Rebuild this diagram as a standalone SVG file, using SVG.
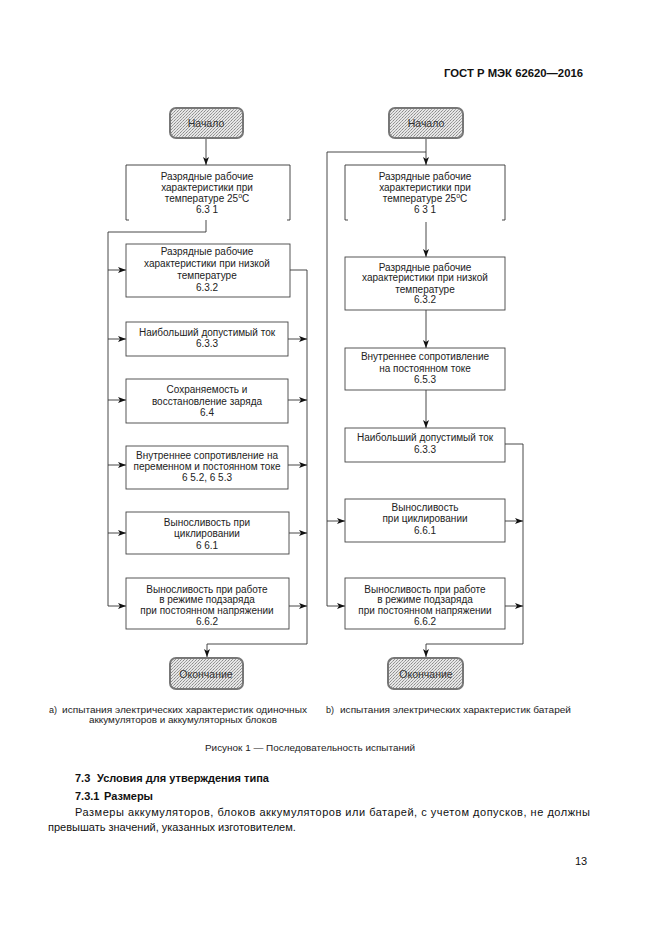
<svg xmlns="http://www.w3.org/2000/svg" width="661" height="936" viewBox="0 0 661 936">
<defs>
<pattern id="stip" width="3" height="3" patternUnits="userSpaceOnUse">
<rect width="3" height="3" fill="#e6e6e6"/>
<rect x="0" y="0" width="1" height="1" fill="#8a8a8a"/>
<rect x="2" y="1" width="1" height="1" fill="#a8a8a8"/>
<rect x="1" y="2" width="1" height="1" fill="#9a9a9a"/>
</pattern>
<marker id="ah" viewBox="0 0 8 6" refX="8" refY="3" markerWidth="8" markerHeight="6" markerUnits="userSpaceOnUse" orient="auto">
<path d="M0,0 L8,3 L0,6 L2,3 Z" fill="#111"/>
</marker>
</defs>
<style>
.box{fill:#fff;stroke:#444;stroke-width:0.9}
.term{fill:url(#stip);stroke:#777;stroke-width:2}
.t{font-family:"Liberation Sans",Arial,sans-serif;font-size:10px;fill:#222;text-anchor:middle}
.tt{font-family:"Liberation Sans",Arial,sans-serif;font-size:10.5px;fill:#333;text-anchor:middle}
.c{fill:none;stroke:#333;stroke-width:0.9}
.a{marker-end:url(#ah)}
.cap{font-family:"Liberation Sans",Arial,sans-serif;font-size:9px;fill:#222}
.b{font-family:"Liberation Sans",Arial,sans-serif;font-size:11px;fill:#111}
.bb{font-family:"Liberation Sans",Arial,sans-serif;font-size:11px;font-weight:bold;fill:#111}
</style>
<rect width="661" height="936" fill="#fff"/>
<text id="header" class="bb" x="444" y="77" textLength="139" lengthAdjust="spacingAndGlyphs">ГОСТ Р МЭК 62620—2016</text>

<g id="connectors">
<!-- left -->
<path class="c a" d="M206,138 V165"/>
<path class="c a" d="M206,220 V232 H108 V606 H126"/>
<path class="c a" d="M108,270 H126"/>
<path class="c a" d="M108,339 H126"/>
<path class="c a" d="M108,400 H126"/>
<path class="c a" d="M108,465 H126"/>
<path class="c a" d="M108,533 H126"/>
<path class="c a" d="M290,270 H307 V644 H207 V657"/>
<path class="c a" d="M288,339 H307"/>
<path class="c a" d="M288,400 H307"/>
<path class="c a" d="M288,465 H307"/>
<path class="c a" d="M289,533 H307"/>
<path class="c a" d="M289,606 H307"/>
<!-- right -->
<path class="c a" d="M426,138 V165"/>
<path class="c a" d="M426,152 H327 V606 H345"/>
<path class="c a" d="M327,521 H345"/>
<path class="c a" d="M426,222 V257"/>
<path class="c a" d="M426,310 V348"/>
<path class="c a" d="M426,390 V428"/>
<path class="c a" d="M505,444 H523 V644 H426 V657"/>
<path class="c a" d="M505,521 H523"/>
<path class="c a" d="M505,606 H523"/>
</g>

<!-- left column nodes -->
<g id="L-start">
<rect class="term" x="170" y="108" width="73" height="30" rx="6"/>
<text class="tt" x="206" y="127">Начало</text>
</g>
<g id="L-1">
<rect x="126" y="165" width="164" height="55" fill="#fff"/>
<path class="c" d="M126,220 V165 H290 V220 M126,220 h3 M290,220 h-3"/>
<text class="t" x="207" y="180">Разрядные рабочие</text>
<text class="t" x="207" y="191">характеристики при</text>
<text class="t" x="207" y="202">температуре 25<tspan font-size="7" dy="-4">o</tspan><tspan dy="4">C</tspan></text>
<text class="t" x="207" y="213">6.3 1</text>
</g>
<g id="L-2">
<rect class="box" x="126" y="244" width="164" height="53"/>
<text class="t" x="207" y="255">Разрядные рабочие</text>
<text class="t" x="207" y="267">характеристики при низкой</text>
<text class="t" x="207" y="279">температуре</text>
<text class="t" x="207" y="291">6.3.2</text>
</g>
<g id="L-3">
<rect class="box" x="126" y="322" width="162" height="34"/>
<text class="t" x="207" y="336">Наибольший допустимый ток</text>
<text class="t" x="207" y="347">6.3.3</text>
</g>
<g id="L-4">
<rect class="box" x="126" y="379" width="162" height="44"/>
<text class="t" x="207" y="393">Сохраняемость и</text>
<text class="t" x="207" y="405">восстановление заряда</text>
<text class="t" x="207" y="416">6.4</text>
</g>
<g id="L-5">
<rect class="box" x="126" y="446" width="162" height="43"/>
<text class="t" x="207" y="459">Внутреннее сопротивление на</text>
<text class="t" x="207" y="470">переменном и постоянном токе</text>
<text class="t" x="207" y="481">6 5.2, 6 5.3</text>
</g>
<g id="L-6">
<rect class="box" x="126" y="512" width="163" height="42"/>
<text class="t" x="207" y="526">Выносливость при</text>
<text class="t" x="207" y="537">циклировании</text>
<text class="t" x="207" y="549">6 6.1</text>
</g>
<g id="L-7">
<rect class="box" x="126" y="578" width="163" height="51"/>
<text class="t" x="207" y="593">Выносливость при работе</text>
<text class="t" x="207" y="603">в режиме подзаряда</text>
<text class="t" x="207" y="614">при постоянном напряжении</text>
<text class="t" x="207" y="625">6.6.2</text>
</g>
<g id="L-end">
<rect class="term" x="170" y="658" width="73" height="31" rx="6"/>
<text class="tt" x="206" y="678">Окончание</text>
</g>

<!-- right column nodes -->
<g id="R-start">
<rect class="term" x="389" y="108" width="74" height="30" rx="6"/>
<text class="tt" x="426" y="127">Начало</text>
</g>
<g id="R-1">
<rect x="345" y="165" width="160" height="55" fill="#fff"/>
<path class="c" d="M345,220 V165 H505 V220 M345,220 h3 M505,220 h-3"/>
<text class="t" x="425" y="180">Разрядные рабочие</text>
<text class="t" x="425" y="191">характеристики при</text>
<text class="t" x="425" y="202">температуре 25<tspan font-size="7" dy="-4">o</tspan><tspan dy="4">C</tspan></text>
<text class="t" x="425" y="213">6 3 1</text>
</g>
<g id="R-2">
<rect class="box" x="345" y="257" width="160" height="53"/>
<text class="t" x="425" y="271">Разрядные рабочие</text>
<text class="t" x="425" y="281">характеристики при низкой</text>
<text class="t" x="425" y="293">температуре</text>
<text class="t" x="425" y="303">6.3.2</text>
</g>
<g id="R-3">
<rect class="box" x="345" y="348" width="160" height="42"/>
<text class="t" x="425" y="360">Внутреннее сопротивление</text>
<text class="t" x="425" y="372">на постоянном токе</text>
<text class="t" x="425" y="383">6.5.3</text>
</g>
<g id="R-4">
<rect class="box" x="345" y="428" width="160" height="34"/>
<text class="t" x="425" y="441">Наибольший допустимый ток</text>
<text class="t" x="425" y="453">6.3.3</text>
</g>
<g id="R-5">
<rect class="box" x="345" y="499" width="160" height="43"/>
<text class="t" x="425" y="511">Выносливость</text>
<text class="t" x="425" y="522">при циклировании</text>
<text class="t" x="425" y="534">6.6.1</text>
</g>
<g id="R-6">
<rect class="box" x="345" y="578" width="160" height="51"/>
<text class="t" x="425" y="593">Выносливость при работе</text>
<text class="t" x="425" y="603">в режиме подзаряда</text>
<text class="t" x="425" y="614">при постоянном напряжении</text>
<text class="t" x="425" y="625">6.6.2</text>
</g>
<g id="R-end">
<rect class="term" x="388" y="658" width="75" height="31" rx="6"/>
<text class="tt" x="426" y="678">Окончание</text>
</g>

<g id="captions">
<text class="cap" x="49" y="713">a)<tspan x="62" textLength="245" lengthAdjust="spacingAndGlyphs">испытания электрических характеристик одиночных</tspan></text>
<text class="cap" x="89" y="723" textLength="188" lengthAdjust="spacingAndGlyphs">аккумуляторов и аккумуляторных блоков</text>
<text class="cap" x="326" y="713">b)<tspan x="340" textLength="231" lengthAdjust="spacingAndGlyphs">испытания электрических характеристик батарей</tspan></text>
<text class="cap" x="205" y="751" textLength="210" lengthAdjust="spacingAndGlyphs">Рисунок 1 — Последовательность испытаний</text>
</g>

<g id="body">
<text class="bb" x="75" y="782">7.3<tspan x="97">Условия для утверждения типа</tspan></text>
<text class="bb" x="75" y="800">7.3.1<tspan x="104">Размеры</tspan></text>
<text class="b" x="75" y="816" textLength="515" lengthAdjust="spacing">Размеры аккумуляторов, блоков аккумуляторов или батарей, с учетом допусков, не должны</text>
<text class="b" x="48" y="831">превышать значений, указанных изготовителем.</text>
<text class="b" x="575" y="865">13</text>
</g>
</svg>
